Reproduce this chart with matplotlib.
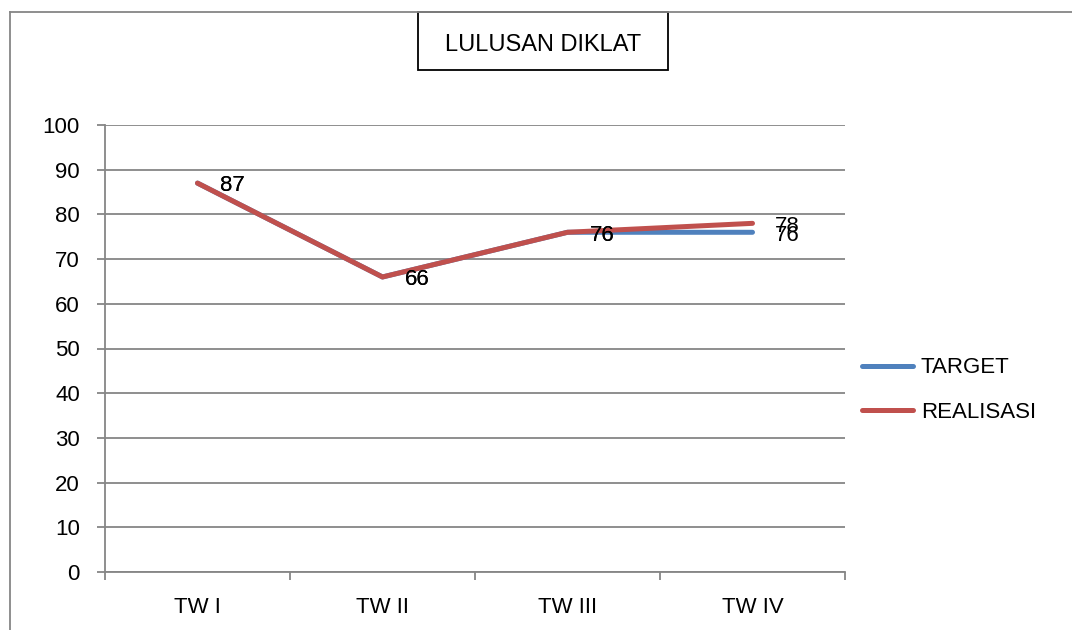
import matplotlib
matplotlib.use('Agg')
import matplotlib.pyplot as plt
from matplotlib.lines import Line2D
from matplotlib.patches import Rectangle
import numpy as np

plt.rcParams['font.family'] = ['Liberation Sans', 'DejaVu Sans']

categories = ['TW I', 'TW II', 'TW III', 'TW IV']
target = [87, 66, 76, 76]
realisasi = [87, 66, 76, 78]
yticks = list(range(0, 101, 10))

blue = '#4F81BD'
red = '#C0504D'
grid_c = '#868686'

fig = plt.figure(figsize=(10.72, 6.30), dpi=100)
ax = fig.add_axes([105 / 1072, 1 - 572 / 630, 740 / 1072, 447 / 630])

x = np.arange(len(categories))
ax.plot(x, target, color=blue, lw=3.6, solid_capstyle='round', label='TARGET', zorder=3)
ax.plot(x, realisasi, color=red, lw=3.6, solid_capstyle='round', label='REALISASI', zorder=4)

# data labels (both series, they overlap at TW IV like the original)
for xi, v in zip(x, target):
    ax.annotate(str(v), (xi, v), xytext=(16, -2), textcoords='offset points',
                ha='left', va='center', fontsize=16, zorder=5)
for xi, v in zip(x, realisasi):
    ax.annotate(str(v), (xi, v), xytext=(16, -2), textcoords='offset points',
                ha='left', va='center', fontsize=16, zorder=5)

ax.set_xlim(-0.5, len(categories) - 0.5)
ax.set_ylim(0, 100)
ax.set_yticks(yticks)
ax.yaxis.grid(True, color=grid_c, lw=1.3)
ax.set_axisbelow(True)

ax.set_xticks(np.arange(len(categories) + 1) - 0.5)
ax.set_xticklabels([])
ax.set_xticks(x, minor=True)
ax.set_xticklabels(categories, minor=True)
ax.tick_params(axis='x', which='major', length=6, color=grid_c, width=1.3)
ax.tick_params(axis='x', which='minor', length=0, pad=18, labelsize=16)
ax.tick_params(axis='y', length=6, color=grid_c, width=1.3, pad=12, labelsize=16)

for s in ['top', 'right']:
    ax.spines[s].set_visible(False)
for s in ['left', 'bottom']:
    ax.spines[s].set_color(grid_c)
    ax.spines[s].set_linewidth(1.3)

fig.legend(loc='center left', bbox_to_anchor=(862 / 1072, 1 - 390 / 630),
           bbox_transform=fig.transFigure, frameon=False, fontsize=16,
           handlelength=2.3, handletextpad=0.35, labelspacing=1.05,
           borderpad=0, borderaxespad=0)

# outer border (top and left)
fig.add_artist(Line2D([10 / 1072, 1], [1 - 12 / 630, 1 - 12 / 630],
                      transform=fig.transFigure, color=grid_c, lw=1.3))
fig.add_artist(Line2D([10 / 1072, 10 / 1072], [0, 1 - 12 / 630],
                      transform=fig.transFigure, color=grid_c, lw=1.3))

# title box
fig.add_artist(Rectangle((418 / 1072, 1 - 70 / 630), 250 / 1072, 58 / 630,
                         transform=fig.transFigure, facecolor='white',
                         edgecolor='black', lw=1.3))
fig.text(543 / 1072, 1 - 45 / 630, 'LULUSAN DIKLAT', ha='center', va='center',
         fontsize=17)

fig.savefig('out.png', dpi=100)
